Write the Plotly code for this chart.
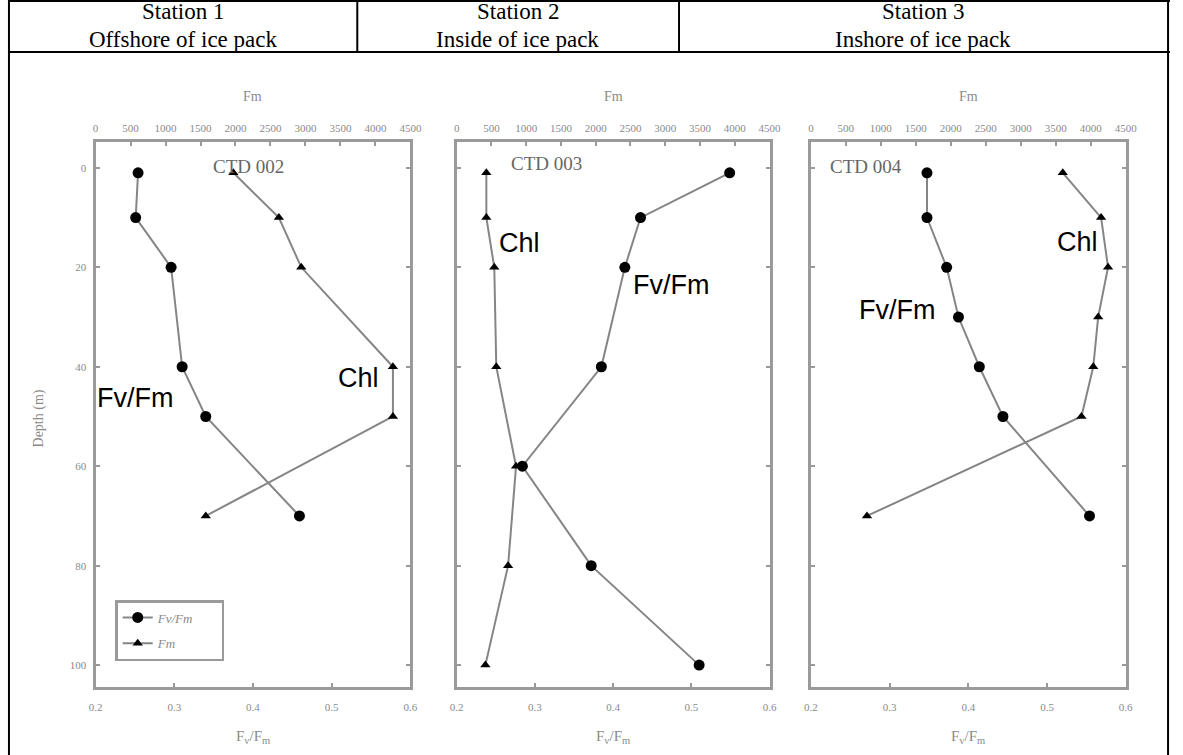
import plotly.graph_objects as go

# ---------------- data ----------------
stations = ["Station 1", "Station 2", "Station 3"]
locations = ["Offshore of ice pack", "Inside of ice pack", "Inshore of ice pack"]
ctd_names = ["CTD 002", "CTD 003", "CTD 004"]

depth1 = [1, 10, 20, 40, 50, 70]
fvfm1 = [0.254, 0.251, 0.296, 0.310, 0.340, 0.459]
fm1 = [1970, 2620, 2940, 4250, 4250, 1575]

depth2 = [1, 10, 20, 40, 60, 80, 100]
fvfm2 = [0.549, 0.435, 0.415, 0.385, 0.284, 0.372, 0.510]
fm2 = [427, 427, 541, 570, 854, 740, 413]

depth3 = [1, 10, 20, 30, 40, 50, 70]
fvfm3 = [0.3475, 0.3475, 0.3725, 0.3875, 0.414, 0.444, 0.554]
fm3 = [3600, 4148, 4247, 4106, 4036, 3867, 802]

fvfm_ticks = [0.2, 0.3, 0.4, 0.5, 0.6]
fm_ticks = [0, 500, 1000, 1500, 2000, 2500, 3000, 3500, 4000, 4500]
depth_ticks = [0, 20, 40, 60, 80, 100]

# ---------------- layout helpers ----------------
W, H = 1183, 755
def px(x):
    return x / W
def py(y):
    return 1 - y / H

GRAY = "#9a9a9a"
TXT = "#8a8a8a"
LINE = "#858585"
SERIF = "Liberation Serif, Times New Roman, serif"
SANS = "Liberation Sans, Arial, sans-serif"
PAD = "\u00a0" * 7

panels = [
    dict(depth=depth1, fvfm=fvfm1, fm=fm1, x0=90, x1=410),
    dict(depth=depth2, fvfm=fvfm2, fm=fm2, x0=457, x1=775),
    dict(depth=depth3, fvfm=fvfm3, fm=fm3, x0=817, x1=1137),
]
Y_TOP, Y_BOT = 142, 687
ydom = [py(Y_BOT), py(Y_TOP)]

fig = go.Figure()
layout = dict(
    width=W, height=H, autosize=False,
    margin=dict(l=0, r=0, t=0, b=0),
    paper_bgcolor="white", plot_bgcolor="white",
    showlegend=True,
)

for i, p in enumerate(panels):
    k = i + 1
    kt = i + 4
    xb = "x" if k == 1 else f"x{k}"
    xt = f"x{kt}"
    yy = "y" if k == 1 else f"y{k}"
    dom = [px(p["x0"]), px(p["x1"])]

    fig.add_trace(go.Scatter(
        x=p["fvfm"], y=p["depth"], xaxis=xb, yaxis=yy,
        mode="lines+markers", name="Fv/Fm" + PAD, legendgroup="fvfm",
        showlegend=(k == 1),
        line=dict(color=LINE, width=2),
        marker=dict(symbol="circle", size=11, color="black"),
    ))
    fig.add_trace(go.Scatter(
        x=p["fm"], y=p["depth"], xaxis=xt, yaxis=yy,
        mode="lines+markers", name="Fm", legendgroup="fm",
        showlegend=(k == 1),
        line=dict(color=LINE, width=2),
        marker=dict(symbol="triangle-up", size=9, color="black"),
    ))

    layout["xaxis" if k == 1 else f"xaxis{k}"] = dict(
        domain=dom, anchor=yy,
        range=[0.2, 0.6], tickvals=fvfm_ticks,
        ticktext=[f"{v:.1f}" for v in fvfm_ticks],
        ticks="inside", ticklen=4, tickcolor=GRAY, tickwidth=1.5,
        showline=True, linecolor=GRAY, linewidth=3, mirror=True,
        showgrid=False, zeroline=False, ticklabelstandoff=8,
        tickfont=dict(family=SERIF, size=11, color=TXT),
    )
    layout[f"xaxis{kt}"] = dict(
        overlaying=xb, side="top", anchor=yy,
        range=[0, 4500], tickvals=fm_ticks,
        ticktext=[str(v) for v in fm_ticks],
        ticks="inside", ticklen=4, tickcolor=GRAY, tickwidth=1.5,
        showline=False, showgrid=False, zeroline=False, ticklabelstandoff=7,
        tickfont=dict(family=SERIF, size=11, color=TXT),
    )
    layout["yaxis" if k == 1 else f"yaxis{k}"] = dict(
        domain=ydom, anchor=xb,
        range=[104.4, -5.2], tickvals=depth_ticks,
        ticktext=[str(v) for v in depth_ticks],
        showticklabels=(k == 1),
        ticks="inside", ticklen=4, tickcolor=GRAY, tickwidth=1.5,
        showline=True, linecolor=GRAY, linewidth=3, mirror="ticks",
        showgrid=False, zeroline=False, ticklabelstandoff=4,
        tickfont=dict(family=SERIF, size=11, color=TXT),
    )

layout["legend"] = dict(
    x=px(110), y=py(600), xanchor="left", yanchor="top",
    bgcolor="white", bordercolor=GRAY, borderwidth=2.5,
    font=dict(family=SERIF, size=13, color=TXT, style="italic"),
    tracegroupgap=6, itemwidth=30,
)

annotations = []
# header
header_centers = [179, 519, 931]
for c, s, l in zip(header_centers, stations, locations):
    annotations.append(dict(x=px(c), y=py(12), xref="paper", yref="paper",
                            text=s, showarrow=False, xanchor="center", yanchor="middle",
                            font=dict(family=SERIF, size=23, color="black")))
    annotations.append(dict(x=px(c), y=py(39), xref="paper", yref="paper",
                            text=l, showarrow=False, xanchor="center", yanchor="middle",
                            font=dict(family=SERIF, size=23, color="black")))

# axis titles
for p in panels:
    cx = (p["x0"] + p["x1"]) / 2
    annotations.append(dict(x=px(cx), y=py(97), xref="paper", yref="paper",
                            text="Fm", showarrow=False, xanchor="center", yanchor="middle",
                            font=dict(family=SERIF, size=14, color=TXT)))
    annotations.append(dict(x=px(cx), y=py(737), xref="paper", yref="paper",
                            text="F<sub>v</sub>/F<sub>m</sub>", showarrow=False,
                            xanchor="center", yanchor="middle",
                            font=dict(family=SERIF, size=15, color=TXT)))
annotations.append(dict(x=px(33), y=py(418), xref="paper", yref="paper",
                        text="Depth (m)", textangle=-90, showarrow=False,
                        xanchor="center", yanchor="middle",
                        font=dict(family=SERIF, size=14, color=TXT)))

# CTD labels
ctd_pos = [(245, 166), (548, 164), (873, 166)]
for (cx, cy), name in zip(ctd_pos, ctd_names):
    annotations.append(dict(x=px(cx), y=py(cy), xref="paper", yref="paper",
                            text=name, showarrow=False, xanchor="center", yanchor="middle",
                            font=dict(family=SERIF, size=19, color="#666666")))

# black series labels
labels = [("Fv/Fm", 130, 398), ("Chl", 357, 378),
          ("Chl", 521, 243), ("Fv/Fm", 675, 285),
          ("Chl", 1088, 242), ("Fv/Fm", 905, 310)]
for t, cx, cy in labels:
    annotations.append(dict(x=px(cx), y=py(cy), xref="paper", yref="paper",
                            text=t, showarrow=False, xanchor="center", yanchor="middle",
                            font=dict(family=SANS, size=27, color="black")))
layout["annotations"] = annotations

# table lines
shapes = []
def seg(x0, y0, x1, y1):
    shapes.append(dict(type="line", xref="paper", yref="paper",
                       x0=px(x0), y0=py(y0), x1=px(x1), y1=py(y1),
                       line=dict(color="black", width=2)))
seg(1, 1, 1182, 1)
seg(1, 52, 1182, 52)
seg(2, 0, 2, 755)
seg(1180, 0, 1180, 755)
seg(356, 1, 356, 52)
seg(683, 1, 683, 52)
layout["shapes"] = shapes

fig.update_layout(**layout)
fig.write_html("out.html")
